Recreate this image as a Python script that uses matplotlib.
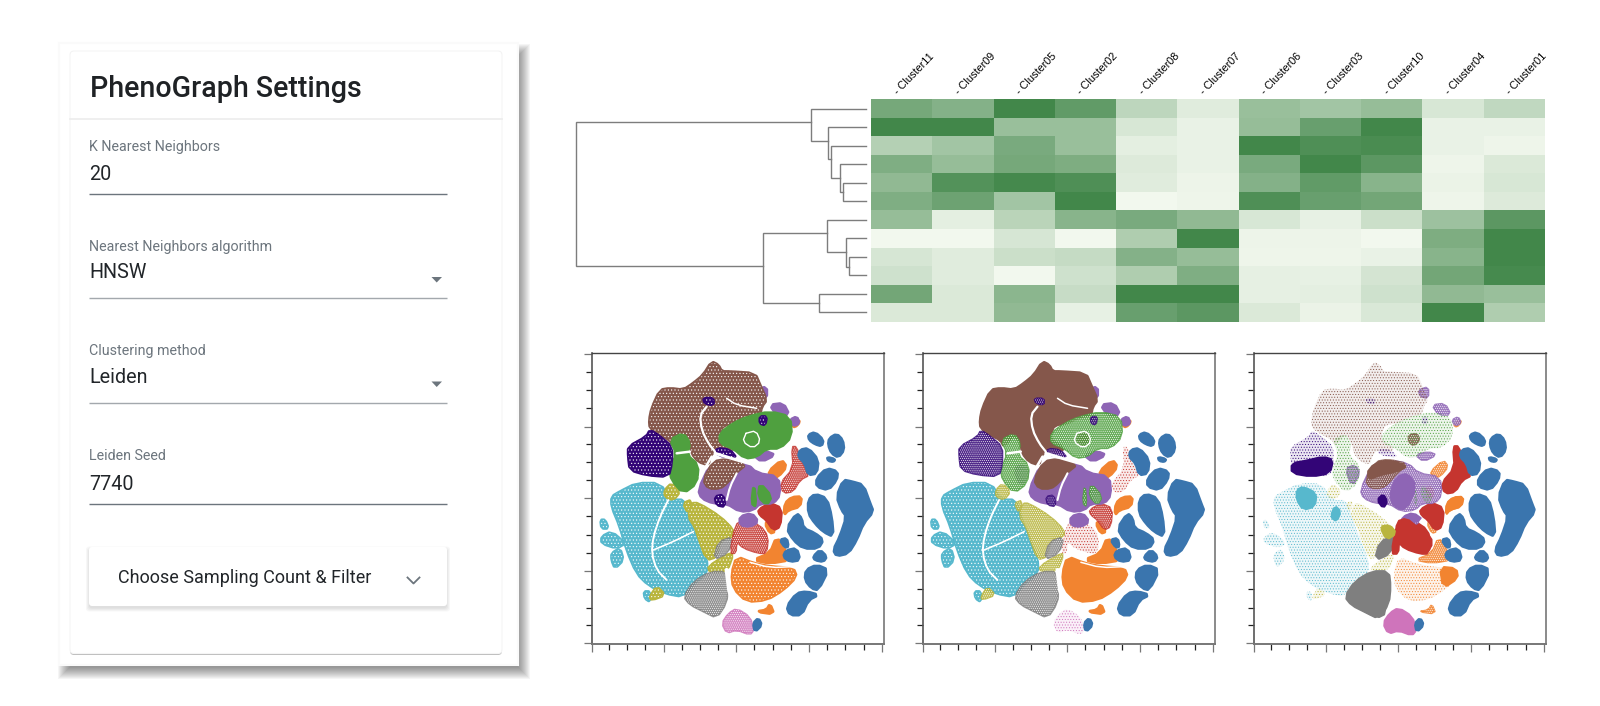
import matplotlib
matplotlib.use("Agg")
import matplotlib.pyplot as plt
from matplotlib.patches import Polygon, Rectangle, FancyBboxPatch
from matplotlib.colors import LinearSegmentedColormap
import numpy as np

# ---------- data ----------
form_labels = ["K Nearest Neighbors", "Nearest Neighbors algorithm", "Clustering method", "Leiden Seed"]
form_values = ["20", "HNSW", "Leiden", "7740"]
clusters = ["Cluster11", "Cluster09", "Cluster05", "Cluster02", "Cluster08", "Cluster07",
            "Cluster06", "Cluster03", "Cluster10", "Cluster04", "Cluster01"]
heat = [
    [.70, .62, 1.0, .82, .30, .10, .50, .45, .52, .15, .28],
    [1.0, 1.0, .50, .50, .15, .05, .52, .78, 1.0, .05, .05],
    [.35, .45, .68, .50, .08, .05, 1.0, .92, .95, .05, .02],
    [.65, .52, .70, .66, .12, .05, .68, 1.0, .85, .02, .13],
    [.55, .90, .98, .92, .10, .03, .62, .82, .60, .04, .15],
    [.65, .75, .45, 1.0, .00, .02, .92, .78, .72, .02, .12],
    [.52, .08, .32, .60, .68, .55, .15, .06, .22, .48, .85],
    [.00, .00, .16, .00, .38, 1.0, .03, .03, .00, .66, 1.0],
    [.16, .10, .22, .25, .62, .52, .02, .02, .05, .60, 1.0],
    [.20, .10, .00, .20, .38, .65, .07, .06, .17, .72, .97],
    [.72, .13, .58, .24, 1.0, 1.0, .07, .08, .20, .55, .50],
    [.13, .13, .55, .06, .78, .85, .13, .04, .14, 1.0, .38],
]
# dendrogram merges (left child, right child, height); leaves are rows 0..11, new nodes 12, 13...
merges = [(4, 5, .081), (3, 12, .088), (2, 13, .119), (1, 14, .132), (0, 15, .191),
          (8, 9, .059), (7, 17, .068), (6, 18, .136), (10, 11, .163), (19, 20, .354),
          (16, 21, 1.0)]
merge_rows = [4.52, 3.76, 2.74, 1.75, 0.74, 8.53, 7.76, 6.73, 10.5, 8.5, 4.63]

blue = [
    [(715,285),(735,277),(760,300),(755,318),(735,312),(718,300)],
    [(778,295),(800,282),(818,300),(822,330),(805,352),(785,340),(775,315)],
    [(772,352),(795,358),(790,365),(775,362)],
    [(690,330),(715,325),(745,360),(740,400),(715,405),(705,370),(685,350)],
    [(740,415),(770,385),(803,395),(800,420),(775,450),(740,440)],
    [(715,480),(735,462),(770,475),(785,530),(790,590),(760,575),(735,550),(715,520)],
    [(800,470),(820,420),(845,425),(880,435),(900,490),(910,515),(880,550),(860,600),(835,640),(800,648),(790,630),(810,590),(830,530),(815,510)],
    [(650,565),(680,520),(695,535),(700,565),(735,580),(760,600),(745,625),(700,625),(670,600)],
    [(630,600),(650,595),(655,620),(645,622)],
    [(648,632),(680,625),(690,660),(660,665),(640,650)],
    [(730,650),(750,630),(770,650),(760,665),(735,660)],
    [(708,690),(740,675),(775,690),(745,750),(725,745),(705,720)],
    [(650,800),(680,760),(710,755),(745,765),(715,780),(695,825),(660,825)],
    [(550,850),(565,835),(575,855),(555,875)],
]
orange_big = [[(485,700),(500,650),(550,670),(600,680),(670,685),(680,710),(640,750),(590,780),(530,785),(490,745)]]
orange_small = [
    [(550,660),(600,640),(620,590),(645,630),(660,660),(600,670)],
    [(645,490),(665,472),(695,470),(690,500),(655,510),(642,525)],
    [(595,395),(635,360),(650,380),(625,410),(605,412)],
    [(680,240),(690,245),(675,262),(665,255)],
    [(560,815),(590,810),(600,792),(612,822)],
    [(580,445),(600,440),(607,470),(590,475)],
    [(585,550),(600,545),(615,575),(600,580)],
]
red_low = [[(495,555),(520,540),(570,555),(595,590),(590,640),(565,640),(520,625),(500,605),(498,640),(480,640)]]
red_mid = [[(565,510),(600,490),(635,505),(630,560),(610,570),(590,540),(570,525)]]
red_top = [[(630,430),(670,385),(665,320),(680,320),(690,360),(720,405),(690,420),(670,455),(640,460)]]
purple = [
    [(385,450),(420,375),(470,360),(530,370),(560,400),(625,410),(630,465),(610,490),(570,490),(550,510),(510,515),(470,490),(430,490),(395,475)],
    [(510,530),(545,520),(565,545),(540,560),(510,555)],
    [(560,150),(590,140),(590,175),(565,170)],
    [(600,195),(640,190),(658,225),(620,225)],
    [(660,240),(680,230),(688,250),(670,258)],
    [(550,345),(590,335),(615,345),(575,365)],
    [(340,385),(370,375),(385,400),(360,440)],
]
brown_top = [
    [(238,240),(245,205),(270,150),(300,145),(340,150),(370,130),(400,105),(425,65),(445,75),(455,95),(480,95),
     (555,100),(570,135),(590,180),(575,200),(570,225),(535,230),(500,250),(460,255),(450,280),(450,300),(490,325),
     (470,340),(435,330),(420,350),(415,375),(385,365),(365,340),(360,310),(340,280),(310,320),(300,300),(270,285),(240,265)],
]
brown_mid = [
    [(400,420),(430,365),(470,358),(530,372),(495,400),(470,430),(450,445),(415,445)],
    [(530,285),(555,280),(565,300),(545,318),(530,305)],
]
green_top = [[(450,280),(490,250),(535,230),(600,215),(660,230),(665,290),(630,325),(590,325),(560,350),(525,355),(490,325),(450,310)]]
green_left = [
    [(300,300),(340,280),(360,310),(350,345),(385,375),(380,430),(340,460),(305,420),(300,390),(320,340)],
    [(545,490),(552,430),(558,500)],
    [(570,430),(605,470),(590,495),(565,470)],
]
indigo = [
    [(175,320),(230,290),(240,270),(270,290),(305,320),(305,370),(295,410),(230,405),(180,390),(175,350)],
    [(400,175),(430,175),(430,195),(405,190)],
    [(440,325),(480,330),(500,355),(440,345)],
    [(435,470),(460,465),(465,500),(440,495)],
    [(570,230),(590,230),(585,255),(570,250)],
]
cyan = [
    [(125,470),(150,455),(200,430),(270,430),(300,480),(345,480),(360,530),(370,560),(395,620),(415,680),(400,710),
     (370,730),(340,770),(285,760),(235,735),(200,700),(170,630),(150,560),(125,500)],
    [(95,590),(125,575),(165,610),(140,625),(95,610)],
    [(125,640),(150,625),(160,660),(135,685),(125,660)],
    [(92,540),(105,540),(115,565),(95,565)],
    [(222,755),(240,755),(240,785),(225,775)],
]
olive = [
    [(355,530),(365,490),(385,490),(450,530),(490,570),(490,590),(450,600),(440,650),(410,660),(385,590),(375,560)],
    [(285,450),(305,430),(330,455),(310,480),(285,470)],
    [(415,680),(470,645),(490,640),(470,695),(420,695)],
    [(340,490),(365,480),(355,520)],
    [(240,770),(260,740),(285,765),(245,780)],
]
gray = [
    [(340,770),(370,725),(420,695),(470,695),(475,740),(470,790),(440,835),(400,815),(360,795)],
    [(445,605),(490,590),(475,640),(430,660)],
]
pink = [[(455,850),(475,820),(500,805),(540,830),(552,870),(540,885),(500,870),(470,880)]]

# clusters: name -> (outlines, colour, fill level in the three panels)
groups = [
    ("cyan", cyan, "#57b8cd", (1, 1, 3)),
    ("olive", olive, "#b9b53e", (1, 2, 3)),
    ("gray", gray, "#7f7f7f", (2, 2, 0)),
    ("pink", pink, "#cf74bb", (2, 3, 0)),
    ("orange_big", orange_big, "#f28430", (1, 0, 3)),
    ("orange_small", orange_small, "#f28430", (0, 0, 2)),
    ("red_low", red_low, "#c5352f", (2, 3, 0)),
    ("red_mid", red_mid, "#c5352f", (0, 2, 0)),
    ("red_top", red_top, "#c5352f", (2, 3, 0)),
    ("purple", purple, "#8e65b5", (0, 0, 2)),
    ("brown_top", brown_top, "#85574b", (1, 0, 3)),
    ("brown_mid", brown_mid, "#85574b", (1, 0, 2)),
    ("green_top", green_top, "#4fa03f", (0, 2, 3)),
    ("green_left", green_left, "#4fa03f", (0, 2, 3)),
    ("indigo", indigo, "#330577", (1, 2, 3)),
    ("blue", blue, "#3a75ae", (0, 0, 0)),
]
# white channels between the islands: (points, width in points)
gaps = [
    ([(410,200),(390,225),(395,270),(415,310),(435,335)], 1.6),
    ([(435,340),(500,360),(590,385)], 2.2),
    ([(470,175),(500,195),(560,205)], 1.1),
    ([(320,340),(360,335)], 1.8),
    ([(390,410),(425,350)], 1.8),
    ([(500,400),(480,440),(470,480)], 1.5),
    ([(295,480),(270,530),(250,590),(245,640),(260,690),(290,720)], 1.4),
    ([(250,630),(310,605),(370,575)], 1.2),
    ([(470,690),(480,770),(500,795)], 3.0),
    ([(540,667),(600,683),(670,680)], 1.1),
    ([(528,280),(518,305),(548,325),(572,305),(558,272),(528,280)], 1.0),
]
# areas that are solid only in the third panel
solid3 = [
    ("#57b8cd", [(194,450),(214,440),(254,460),(249,500),(214,510),(194,480)]),
    ("#57b8cd", [(309,497),(327,515),(314,545),(296,530)]),
    ("#330577", [(179,370),(224,362),(274,350),(304,360),(294,400),(239,410),(179,400)]),
    ("#330577", [(436,480),(454,462),(467,485),(454,505)]),
    ("#8e65b5", [(474,460),(494,410),(529,400),(554,440),(524,510),(484,500)]),
    ("#8e65b5", [(514,530),(544,518),(574,540),(514,552)]),
    ("#f28430", [(644,490),(664,472),(696,470),(689,500),(654,510),(642,525)]),
    ("#f28430", [(624,680),(674,685),(679,715),(634,745)]),
    ("#c5352f", [(494,545),(524,535),(554,560),(599,590),(599,625),(569,640),(524,605),(494,600)]),
    ("#7f7f7f", [(344,770),(369,725),(424,722),(469,745),(464,790),(454,835),(404,820)]),
    ("#b9b53e", [(444,560),(474,555),(494,580),(464,600)]),
    ("#85574b", [(409,385),(459,357),(529,378),(494,395),(444,405),(409,420)]),
]
tick_x = [67,118,172,226,283,337,391,445,499,553,610,664,718,772,826,883,937]
tick_y = [43,97,151,205,262,313,367,421,475,529,586,640,694,748,805,856,910]

# ---------- layout ----------
W, H = 1600, 706
plt.rcParams['font.family'] = ['Roboto', 'DejaVu Sans']
plt.rcParams['hatch.linewidth'] = 0.4
fig = plt.figure(figsize=(W / 100, H / 100), dpi=100, facecolor="white")
root = fig.add_axes([0, 0, 1, 1])
root.set_xlim(0, W); root.set_ylim(H, 0); root.axis("off")

def sub_axes(x0, y0, x1, y1):
    return fig.add_axes([x0 / W, 1 - y1 / H, (x1 - x0) / W, (y1 - y0) / H])

def smooth(pts):
    a = np.array(pts, float)
    b = np.roll(a, -1, axis=0)
    return np.column_stack([.75 * a + .25 * b, .25 * a + .75 * b]).reshape(-1, 2)

def smooth_open(pts):
    a = np.array(pts, float)
    inner = np.column_stack([.75 * a[:-1] + .25 * a[1:], .25 * a[:-1] + .75 * a[1:]]).reshape(-1, 2)
    return np.vstack([a[0], inner, a[-1]])

# card shadow
for r in np.arange(8, -9, -1):
    root.add_patch(Rectangle((66 - r, 52 - r), 456 + 2 * r, 619 + 2 * r, fc="black", ec="none", alpha=0.04, zorder=1))
root.add_patch(Rectangle((59, 43), 459, 622, fc="white", ec="#fafafa", lw=1.5, zorder=2))
root.add_patch(FancyBboxPatch((72, 53), 428, 600, boxstyle="round,pad=2,rounding_size=4", fc="#bdbdbd", ec="none", zorder=3))
root.add_patch(FancyBboxPatch((72, 53), 428, 598.5, boxstyle="round,pad=2,rounding_size=4", fc="white", ec="#f5f5f5", lw=0.8, zorder=4))
root.plot([70, 502], [119, 119], color="#ececec", lw=1.2, zorder=5)

TXT = "#212529"; MUTED = "#6c757d"
root.text(89.5, 97, "PhenoGraph Settings", fontsize=20.6, fontweight="medium", color="#1f2225", zorder=6)
label_base = [150.7, 251, 354.7, 460]
value_base = [180, 278.3, 383.3, 490]
rule_y = [193.7, 297.7, 402.7, 503.7]
rule_c = ["#6c757d", "#a3a8ad", "#a3a8ad", "#6c757d"]
for lab, val, ly, vy, ry, rc in zip(form_labels, form_values, label_base, value_base, rule_y, rule_c):
    root.text(89.3, ly, lab, fontsize=10.3, color=MUTED, zorder=6)
    root.text(89.3, vy, val, fontsize=14.2, color=TXT, zorder=6)
    root.plot([89, 447], [ry, ry], color=rc, lw=1.0, zorder=5, solid_capstyle="butt")
for ty in (277, 381.5):
    root.add_patch(Polygon([(431.5, ty), (442, ty), (436.7, ty + 5.5)], fc=MUTED, ec="none", zorder=6))

for r in np.arange(3, -1, -1):
    root.add_patch(FancyBboxPatch((91 - r, 549 - r + 2.5), 354 + 2 * r, 55 + 2 * r, boxstyle="round,pad=2,rounding_size=3",
                                  fc="black", ec="none", alpha=0.03, zorder=5))
root.add_patch(FancyBboxPatch((91, 549), 354, 55, boxstyle="round,pad=2,rounding_size=3", fc="white", ec="none", zorder=6))
root.text(118.3, 582.7, "Choose Sampling Count & Filter", fontsize=13.0, color=TXT, zorder=7)
root.plot([407.5, 413.5, 419.5], [577.5, 583.5, 577.5], color=MUTED, lw=1.3, zorder=7)

# heatmap
HX0, HX1, HY0, HY1 = 871, 1545, 99.3, 321.7
cmap = LinearSegmentedColormap.from_list("grn", ["#f2f8ee", "#42874a"])
hax = sub_axes(HX0, HY0, HX1, HY1)
hax.imshow(np.array(heat), cmap=cmap, vmin=0, vmax=1, aspect="auto", interpolation="nearest")
hax.axis("off")
col_w = (HX1 - HX0) / len(clusters)
for i, name in enumerate(clusters):
    root.text(HX0 + col_w * (i + .5) - 4, 95, "- " + name, rotation=46, rotation_mode="anchor",
              ha="left", va="baseline", fontsize=7.8, color="black", family=["Liberation Sans", "DejaVu Sans"])

# dendrogram
dax = sub_axes(576, HY0, 866, HY1)
dax.set_xlim(1.0, 0.0); dax.set_ylim(len(heat) - .5, -.5); dax.axis("off")
nodes = {i: (float(i), 0.0) for i in range(len(heat))}
for k, ((a, b, h), row) in enumerate(zip(merges, merge_rows)):
    ya, ha_ = nodes[a]; yb, hb_ = nodes[b]
    dax.plot([ha_, h, h, hb_], [ya, ya, yb, yb], color="#7d7d7d", lw=1.0, clip_on=False, solid_joinstyle="miter")
    nodes[len(heat) + k] = (row, h)

# t-SNE panels
def draw_poly(ax, pts, color, level):
    pts = smooth(pts)
    if level == 0:
        ax.add_patch(Polygon(pts, fc=color, ec=color, lw=2.2, joinstyle="round"))
    elif level == 1:
        ax.add_patch(Polygon(pts, fc=color, ec=color, lw=2.2, joinstyle="round"))
        ax.add_patch(Polygon(pts, fc="none", ec="white", lw=0, hatch="....."))
    elif level == 2:
        ax.add_patch(Polygon(pts, fc=color, ec=color, lw=1.2, alpha=0.85, joinstyle="round"))
        ax.add_patch(Polygon(pts, fc="none", ec="white", lw=0, hatch="........"))
    else:
        ax.add_patch(Polygon(pts, fc=color, ec="none", alpha=0.10))
        ax.add_patch(Polygon(pts, fc="none", ec=color, lw=0, hatch="......"))

panels = [(592, 884), (922.7, 1215), (1254, 1545.7)]
for p, (x0, x1) in enumerate(panels):
    ax = sub_axes(x0, 353.3, x1, 644.3)
    ax.set_xlim(66, 942); ax.set_ylim(913, 40)
    for name, polys, color, levels in groups:
        for pts in polys:
            draw_poly(ax, pts, color, levels[p])
    for pts, lw in gaps:
        line = smooth_open(pts)
        if p < 2:
            ax.plot(line[:, 0], line[:, 1], color="white", lw=lw, solid_capstyle="round", solid_joinstyle="round")
    if p == 2:
        for color, pts in solid3:
            ax.add_patch(Polygon(smooth(pts), fc=color, ec=color, lw=1.5, joinstyle="round"))
    ax.set_xticks(tick_x[::4]); ax.set_yticks(tick_y[::4])
    ax.set_xticks([t for i, t in enumerate(tick_x) if i % 4], minor=True)
    ax.set_yticks([t for i, t in enumerate(tick_y) if i % 4], minor=True)
    ax.tick_params(which="major", length=6, width=0.9, color="#777777", labelbottom=False, labelleft=False)
    ax.tick_params(which="minor", length=4, width=0.9, color="#222222")
    for side, c, lw in (("top", "#444444", 1.0), ("left", "#555555", 1.2), ("right", "#8a8a8a", 1.4), ("bottom", "#777777", 1.4)):
        ax.spines[side].set_color(c); ax.spines[side].set_linewidth(lw)

fig.savefig("out.png", dpi=100, facecolor="white")
